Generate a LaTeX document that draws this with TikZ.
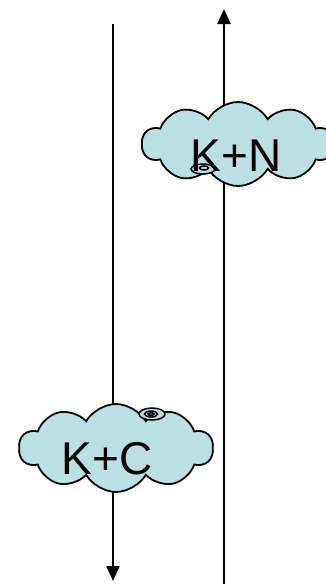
\documentclass[tikz,border=0pt]{standalone}
\usepackage{fontspec}
\setmainfont{Liberation Sans}
\usetikzlibrary{arrows.meta,shapes.symbols,shapes.geometric}
\definecolor{cloudfill}{HTML}{BBE0E3}
\begin{document}
\begin{tikzpicture}[x=1pt,y=-1pt,
  flow/.style={line width=2.2pt,-{Triangle[width=13pt,length=15pt]}},
  puff/.style={cloud,cloud puffs=10,cloud puff arc=120,draw=black,line width=1.8pt,fill=cloudfill,inner sep=0pt},
  bubble/.style={ellipse,draw=black,line width=1.5pt,fill=cloudfill,inner sep=0pt},
  lbl/.style={font=\fontsize{46}{55}\selectfont,inner sep=0pt}]
\useasboundingbox (0,0) rectangle (325,584);
\coordinate (lt) at (113,24);
\coordinate (lb) at (113,581);
\coordinate (rb) at (224,584);
\coordinate (rt) at (224,9);
\draw[flow] (lt) -- (lb);
\draw[flow] (rb) -- (rt);
% K+N cloud
\node[puff,minimum width=192pt,minimum height=84pt] (c1) at (238,144) {};
\node[bubble,minimum width=24pt,minimum height=10pt] (b1) at (203,169) {};
\node[bubble,minimum width=9pt,minimum height=4pt] (b1s) at (204,168) {};
\node[lbl] (t1) at (236,156) {K+N};
% K+C cloud
\node[puff,minimum width=194pt,minimum height=88pt] (c2) at (116,448) {};
\node[bubble,minimum width=26pt,minimum height=12pt] (b2) at (152,414) {};
\node[bubble,minimum width=13pt,minimum height=6pt] (b2m) at (151,414) {};
\node[bubble,minimum width=6pt,minimum height=2.5pt] (b2s) at (151,414) {};
\node[lbl] (t2) at (107,459) {K+C};
\end{tikzpicture}
\end{document}
